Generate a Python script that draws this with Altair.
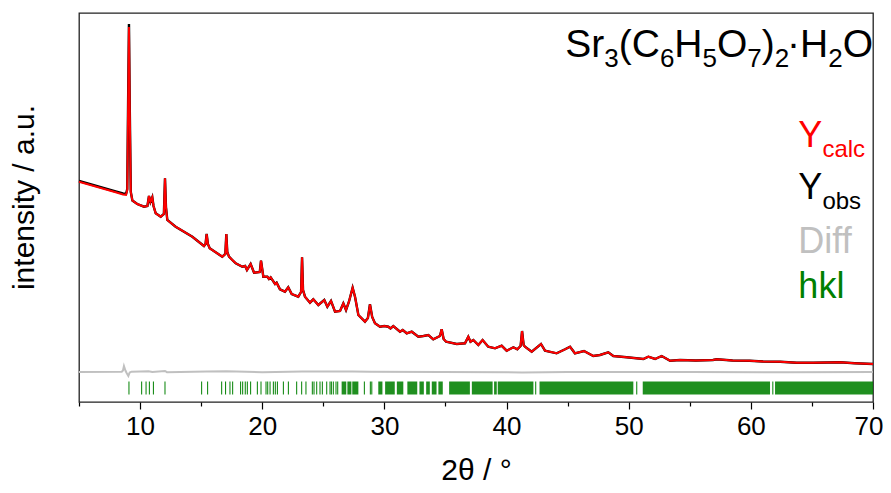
import altair as alt
import pandas as pd

# ---------------- data ----------------
two_theta = [5.0, 6.0, 7.0, 8.0, 8.6, 8.85, 8.95, 9.02, 9.09, 9.16,
             9.24, 9.37, 9.77, 10.32, 10.6, 10.73, 10.85, 11.0, 11.1, 11.28,
             11.69, 11.95, 12.04, 12.12, 12.23, 12.91, 14.28, 15.23, 15.36, 15.45,
             15.55, 15.7, 16.73, 16.98, 17.06, 17.14, 17.28, 17.55, 17.83, 18.37,
             18.6, 18.75, 19.05, 19.33, 19.8, 19.9, 20.09, 20.42, 20.55, 20.69,
             21.05, 21.18, 21.45, 21.86, 22.13, 22.41, 22.95, 23.18, 23.26, 23.34,
             23.5, 23.91, 24.18, 24.59, 25.08, 25.33, 25.63, 25.96, 26.37, 26.64,
             26.86, 27.1, 27.4, 27.6, 27.87, 28.41, 28.65, 28.82, 29.0, 29.23,
             29.64, 30.0, 30.32, 30.5, 30.73, 31.28, 31.5, 31.83, 32.24, 32.78,
             33.2, 33.6, 34.0, 34.55, 34.69, 34.85, 35.05, 35.92, 36.6, 36.87,
             37.05, 37.28, 37.69, 38.04, 38.5, 39.06, 39.6, 40.01, 40.56, 40.88,
             41.15, 41.27, 41.4, 41.51, 42.06, 42.82, 43.15, 44.1, 44.79, 45.2,
             45.6, 46.34, 47.1, 47.65, 48.33, 48.74, 49.84, 51.2, 51.61, 52.16,
             52.7, 53.39, 54.2, 55.5, 56.9, 57.2, 58.5, 59.9, 61.0, 62.4,
             63.75, 65.1, 66.3, 67.3, 68.5, 70.0]

y_obs = [221, 217.5, 214, 210.5, 208.5, 208, 213, 300, 378, 290,
         210, 201.5, 198, 195.3, 196, 206, 200, 204.7, 196, 188.7,
         185.3, 188, 223.7, 195, 182, 175.3, 165.3, 156, 158, 168,
         158, 153.7, 145.3, 148, 168, 150, 145.3, 142, 138.7, 135.3,
         136, 132, 138, 129.3, 130, 141.3, 125.3, 125.3, 123, 124.7,
         118, 119.3, 112.7, 110.3, 114.7, 108, 105.3, 110, 144.7, 112,
         105.3, 99.3, 102.7, 97, 102, 95.3, 101, 90.3, 91, 98.7,
         92, 100.3, 114.3, 105, 87, 80.3, 84, 97.7, 85, 78.7,
         75.3, 76, 75.3, 73.5, 76, 70.3, 72, 68.7, 70.3, 65.3,
         66, 67, 62.7, 66, 72.7, 63, 60.3, 58, 58.7, 65.3,
         60.3, 62, 57, 62, 55.3, 53.7, 56.3, 51.3, 54.7, 52.7,
         56, 71, 57, 55.3, 50.3, 58, 51.3, 48.7, 52.7, 55.3,
         48.7, 51, 46, 47, 49.7, 46, 44.7, 43, 45.3, 43,
         46, 41.3, 42, 41.5, 42, 42.7, 41.5, 41.3, 40.5, 40.3,
         39.3, 39.3, 39.5, 39.7, 38.8, 38]

y_calc = [220.2, 216.7, 213.2, 209.7, 207.6, 207.2, 212, 296, 375, 287,
          210, 201.5, 198, 195.3, 196, 206, 200, 204.7, 196, 188.7,
          185.3, 188, 223.7, 195, 182, 175.3, 165.3, 156, 158, 168,
          158, 153.7, 145.3, 148, 168, 150, 145.3, 142, 138.7, 135.3,
          136, 132, 138, 129.3, 130, 141.3, 125.3, 125.3, 123, 124.7,
          118, 119.3, 112.7, 110.3, 114.7, 108, 105.3, 110, 144.7, 112,
          105.3, 99.3, 102.7, 97, 102, 95.3, 101, 90.3, 91, 98.7,
          92, 100.3, 114.3, 105, 87, 80.3, 84, 97.7, 85, 78.7,
          75.3, 76, 75.3, 73.5, 76, 70.3, 72, 68.7, 70.3, 65.3,
          66, 67, 62.7, 66, 72.7, 63, 60.3, 58, 58.7, 65.3,
          60.3, 62, 57, 62, 55.3, 53.7, 56.3, 51.3, 54.7, 52.7,
          56, 71, 57, 55.3, 50.3, 58, 51.3, 48.7, 52.7, 55.3,
          48.7, 51, 46, 47, 49.7, 46, 44.7, 43, 45.3, 43,
          46, 41.3, 42, 41.5, 42, 42.7, 41.5, 41.3, 40.5, 40.3,
          39.3, 39.3, 39.5, 39.7, 38.8, 38]

diff_tt = [5.0, 8.5, 8.6, 8.68, 8.8, 8.9, 9.04, 9.15, 9.3, 10.7,
           11.0, 12.04, 12.2, 15.45, 17.06, 20.0, 23.26, 27.4, 28.82, 34.7,
           41.27, 45.0, 55.0, 63.0, 70.0]
diff_y = [30.0, 30.2, 31.5, 36.0, 31.5, 29.0, 26.0, 29.5, 30.3, 30.8,
          30.0, 31.0, 29.8, 30.6, 30.7, 29.8, 30.6, 30.4, 30.2, 30.1,
          29.6, 30.0, 29.9, 29.7, 30.0]

hkl_ticks = [9.09, 10.13, 10.49, 10.76, 11.09, 12.04, 15.04, 15.53, 16.68, 17.0,
             17.36, 17.58, 18.23, 18.4, 18.61, 18.78, 19.05, 19.6, 19.9, 20.31,
             20.45, 20.64, 20.91, 21.07, 21.24, 21.73, 22.14, 22.82, 23.23, 23.58,
             24.1, 24.24, 24.46, 24.73, 24.92, 25.28, 25.55, 25.66, 25.82, 26.04,
             26.18, 28.36, 28.85, 28.97, 42.39, 50.66, 61.8]
hkl_band_start = [26.50, 26.97, 27.37, 29.50, 30.06, 31.02, 31.88, 32.87, 33.42, 33.88,
                  34.42, 35.30, 37.16, 38.98, 39.28, 42.70, 51.15, 61.98]
hkl_band_end = [26.88, 27.30, 27.87, 29.84, 30.85, 31.55, 32.69, 33.23, 33.72, 34.27,
                34.78, 37.00, 38.86, 39.20, 42.20, 50.38, 61.57, 70.00]
hkl_top, hkl_bottom = 20.5, 7.5

x_tick_values = [5, 10, 15, 20, 25, 30, 35, 40, 45, 50, 55, 60, 65, 70]
formula_parts = [("Sr", 0), ("3", 1), ("(C", 0), ("6", 1), ("H", 0), ("5", 1), ("O", 0),
                 ("7", 1), (")", 0), ("2", 1), ("·H", 0), ("2", 1), ("O", 0)]
legend_labels = [("Y", "calc", "#ff0000"), ("Y", "obs", "#000000"),
                 ("Diff", "", "#c0c0c0"), ("hkl", "", "#008000")]

assert len(two_theta) == len(y_obs) == len(y_calc)
assert len(diff_tt) == len(diff_y)

# ---------------- layout ----------------
W, H = 794, 389
X_MIN, X_MAX = 5, 70
PPU = W / (X_MAX - X_MIN)
FONT = "Liberation Sans"

# Arial/Liberation Sans advance widths (per 1000 em)
ADV = {"S": 667, "r": 333, "(": 333, ")": 333, "C": 722, "H": 722, "O": 778, "·": 278,
       "Y": 667, "c": 500, "a": 556, "l": 222, "o": 556, "b": 556, "s": 500}


def text_w(s, size):
    return sum(ADV.get(ch, 556) for ch in s) * size / 1000.0


xs = alt.Scale(domain=[X_MIN, X_MAX], nice=False, zero=False)
ys = alt.Scale(domain=[0, H], nice=False, zero=False)

df_obs = pd.DataFrame({"tt": two_theta, "I": y_obs})
df_calc = pd.DataFrame({"tt": two_theta, "I": y_calc})
df_diff = pd.DataFrame({"tt": diff_tt, "I": diff_y})
df_hkl = pd.DataFrame({"tt": hkl_ticks, "top": hkl_top, "bot": hkl_bottom})
df_band = pd.DataFrame({"tt": hkl_band_start, "b": hkl_band_end, "top": hkl_top, "bot": hkl_bottom})

x_axis = alt.Axis(
    values=x_tick_values,
    labelExpr="datum.value % 10 === 0 ? datum.label : ''",
    tickSize={"condition": {"test": "datum.value % 10 === 0", "value": 7}, "value": 4},
    tickColor="black", tickWidth=1.2, domain=False, grid=False,
    labelFont=FONT, labelFontSize=26, labelColor="black", labelPadding=4,
    labelFlush=True, labelFlushOffset=10,
    title="2θ / °", titleFont=FONT, titleFontSize=30, titleFontWeight="normal",
    titleColor="black", titleX=W / 2, titleY=77, titleAlign="center",
    titleBaseline="alphabetic",
)
y_axis = alt.Axis(
    labels=False, ticks=False, domain=False, grid=False,
    title="intensity / a.u.", titleFont=FONT, titleFontSize=30, titleFontWeight="normal",
    titleColor="black", titleAngle=270, titleX=-46, titleY=184, titleAlign="center",
    titleBaseline="alphabetic",
)

X = alt.X("tt:Q", scale=xs, axis=x_axis, title="2θ / °")


def Y(field):
    return alt.Y(field, type="quantitative", scale=ys, axis=y_axis, title="intensity / a.u.")


obs = alt.Chart(df_obs).mark_line(color="black", strokeWidth=2.4).encode(x=X, y=Y("I"))
calc = alt.Chart(df_calc).mark_line(color="#ff0000", strokeWidth=2).encode(x=X, y=Y("I"))
diff = alt.Chart(df_diff).mark_line(color="#c0c0c0", strokeWidth=2).encode(x=X, y=Y("I"))
hkl = alt.Chart(df_hkl).mark_rule(color="#008000", strokeWidth=1).encode(
    x=X, y=Y("top"), y2="bot:Q")
bands = alt.Chart(df_band).mark_rect(color="#008000", opacity=0.88).encode(
    x=X, x2="b:Q", y=Y("top"), y2="bot:Q")

# formula text: right-aligned at the right edge of the plot
F_MAIN, F_SUB = 39, 26
BASE_MAIN, BASE_SUB = 345.3, 335.3
rows = []
cursor = X_MAX
for txt, sub in reversed(formula_parts):
    size = F_SUB if sub else F_MAIN
    rows.append({"t": txt, "tt": cursor, "y": BASE_SUB if sub else BASE_MAIN, "s": size})
    cursor -= text_w(txt, size) / PPU
df_formula = pd.DataFrame(rows)

formula = alt.Chart(df_formula).mark_text(align="right", baseline="alphabetic", font=FONT,
                                          color="black").encode(
    x=X, y=Y("y"), text="t:N", size=alt.Size("s:Q", scale=None))

# legend-like labels
L_X = 63.89
L_MAIN, L_SUB = 36, 24
legend_base = [255.3, 202.7, 148.7, 103.7]
lrows = []
for (main, sub, col), b in zip(legend_labels, legend_base):
    lrows.append({"t": main, "tt": L_X, "y": b, "s": L_MAIN, "c": col})
    if sub:
        lrows.append({"t": sub, "tt": L_X + text_w(main, L_MAIN) / PPU, "y": b - 10,
                      "s": L_SUB, "c": col})
df_leg = pd.DataFrame(lrows)
legend = alt.Chart(df_leg).mark_text(align="left", baseline="alphabetic", font=FONT).encode(
    x=X, y=Y("y"), text="t:N",
    size=alt.Size("s:Q", scale=None),
    color=alt.Color("c:N", scale=None),
)

chart = alt.layer(obs, bands, hkl, diff, calc, formula, legend).properties(
    width=W, height=H,
    padding={"left": 71, "top": 5, "right": 10, "bottom": 80},
    autosize="none",
).configure_view(stroke="#222222", strokeWidth=1.3)

chart.save("out.html", embed_options={"renderer": "svg", "actions": False})
